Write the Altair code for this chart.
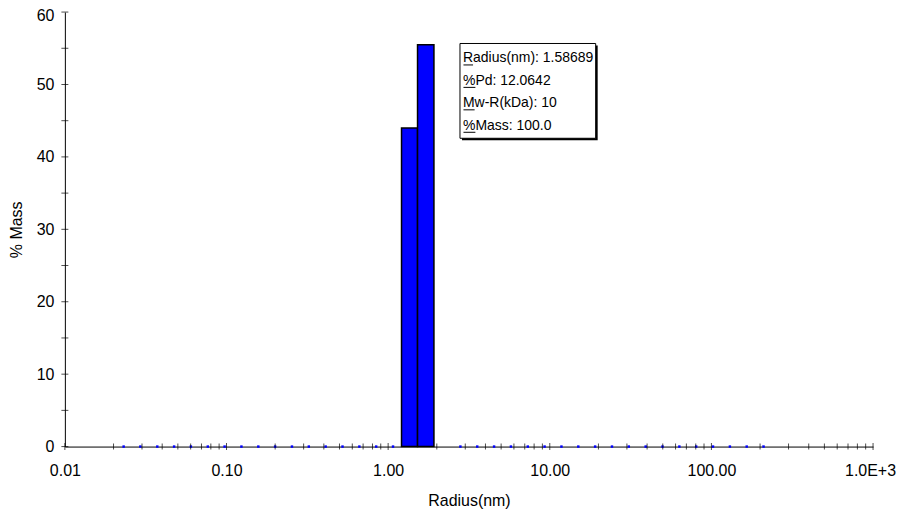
import altair as alt
import pandas as pd

# ---- data ----
# radius bins (nm) that carry mass
bar_lo = [1.21, 1.52]
bar_hi = [1.52, 1.92]
bar_mass = [44.0, 55.5]

# radius positions of the zero-mass points (blue markers on the axis)
zero_radius = [0.0231, 0.0293, 0.0373, 0.0474, 0.0602, 0.0766, 0.0973, 0.1237,
               0.1573, 0.1999, 0.2541, 0.3230, 0.4106, 0.5220, 0.6635, 0.8433,
               1.072, 2.799, 3.558, 4.523, 5.749, 7.308, 9.290, 11.81, 15.01,
               19.08, 24.26, 30.83, 39.19, 49.82, 63.33, 80.50, 102.3, 130.1,
               165.3, 210.2]
zero_mass = [0.0] * len(zero_radius)

x_tick_values = [0.01, 0.1, 1, 10, 100, 1000]
x_tick_labels = ["0.01", "0.10", "1.00", "10.00", "100.00", "1.0E+3"]
x_minor = [m * v for v in [0.01, 0.1, 1, 10, 100] for m in range(2, 10)]
y_major = [0, 10, 20, 30, 40, 50, 60]
y_minor = [5, 15, 25, 35, 45, 55]

legend_lines = ["Radius(nm): 1.58689", "%Pd: 12.0642",
                "Mw-R(kDa): 10", "%Mass: 100.0"]

FONT = "Liberation Sans"
W, H = 810, 435.5
LEG_FS, LEG_LH, LEG_X, LEG_Y = 14, 22.5, 399, 39.5
# approximate advance widths (em) of the underlined first letters
first_w = {"R": 0.722, "%": 0.889, "M": 0.833}

xs = alt.Scale(type="log", domain=[0.01, 1000], nice=False)
ys = alt.Scale(domain=[0, 60], nice=False, zero=False)

label_expr = " : ".join(
    f"datum.value < {v*3.16:.4g} ? '{l}'" for v, l in zip(x_tick_values[:-1], x_tick_labels[:-1])
) + f" : '{x_tick_labels[-1]}'"

x_axis = alt.Axis(values=x_tick_values, labelExpr=label_expr, ticks=False,
                  grid=False, labelPadding=16, titlePadding=14,
                  labelFontSize=16, titleFontSize=16, labelFont=FONT,
                  titleFont=FONT, titleFontWeight="normal",
                  domainColor="black", labelColor="black", titleColor="black",
                  labelFlush=False,
                  labelOffset={"condition": {"test": "datum.value >= 999", "value": -3},
                               "value": 0})
y_axis = alt.Axis(values=y_major, ticks=False, grid=False, labelPadding=11,
                  titlePadding=12, labelFontSize=16, titleFontSize=16,
                  labelFont=FONT, titleFont=FONT, titleFontWeight="normal",
                  domainColor="black", labelColor="black", titleColor="black",
                  labelFlush=False,
                  labelOffset={"condition": {"test": "datum.value >= 59", "value": 3},
                               "value": 0})
XT, YT = "Radius(nm)", "% Mass"


def X(f):
    return alt.X(f, scale=xs, title=XT, axis=x_axis)


def Y(f):
    return alt.Y(f, scale=ys, title=YT, axis=y_axis)


bars_df = pd.DataFrame({"lo": bar_lo, "hi": bar_hi, "mass": bar_mass,
                        "base": [0.0] * len(bar_lo)})
bars = alt.Chart(bars_df).mark_rect(fill="#0000FF", stroke="black", strokeWidth=1.5).encode(
    x=X("lo:Q"), x2="hi:Q", y=Y("mass:Q"), y2="base:Q",
)

dots_df = pd.DataFrame({"lo": zero_radius, "mass": zero_mass})
dots = alt.Chart(dots_df).mark_square(size=6, color="#0000FF", opacity=1).encode(
    x=X("lo:Q"), y=Y("mass:Q"),
)

xmaj = alt.Chart(pd.DataFrame({"lo": x_tick_values, "mass": [0.0] * len(x_tick_values)})).mark_tick(
    orient="vertical", size=7, thickness=1, color="black").encode(
    x=X("lo:Q"), y=Y("mass:Q"))
xmin = alt.Chart(pd.DataFrame({"lo": x_minor, "mass": [0.0] * len(x_minor)})).mark_tick(
    orient="vertical", size=6, thickness=1, color="black").encode(
    x=X("lo:Q"), y=Y("mass:Q"))
yt = alt.Chart(pd.DataFrame({"mass": y_major + y_minor, "lo": [0.01] * 13})).mark_tick(
    orient="horizontal", size=7, thickness=1, color="black").encode(
    y=Y("mass:Q"), x=X("lo:Q"))

box_shadow = alt.Chart(pd.DataFrame({"a": [1]})).mark_rect(fill="black").encode(
    x=alt.value(398), x2=alt.value(534), y=alt.value(33.5), y2=alt.value(128.5))
box = alt.Chart(pd.DataFrame({"a": [1]})).mark_rect(fill="white", stroke="black", strokeWidth=1).encode(
    x=alt.value(396), x2=alt.value(532), y=alt.value(31.5), y2=alt.value(126.5))
legend = alt.Chart(pd.DataFrame({"t": ["\n".join(legend_lines)]})).mark_text(
    align="left", baseline="top", font=FONT, fontSize=LEG_FS, lineBreak="\n",
    lineHeight=LEG_LH, color="black").encode(
    x=alt.value(LEG_X), y=alt.value(LEG_Y), text="t:N")

# underline of the first letter of each legend line (text decoration)
ul_df = pd.DataFrame({
    "ux": [LEG_X + 0.5] * len(legend_lines),
    "ux2": [LEG_X + first_w[s[0]] * LEG_FS for s in legend_lines],
    "uy": [LEG_Y + i * LEG_LH + 13.5 for i in range(len(legend_lines))],
})
underline = alt.Chart(ul_df).mark_rule(color="black", strokeWidth=1).encode(
    x=alt.X("ux:Q", scale=None), x2="ux2:Q", y=alt.Y("uy:Q", scale=None))

chart = alt.layer(bars, dots, xmin, xmaj, yt, box_shadow, box, legend, underline).properties(
    width=W, height=H,
    autosize=alt.AutoSizeParams(type="none"),
    padding={"left": 57, "top": 3.5, "right": 23, "bottom": 64},
).configure_view(stroke=None).configure_axis(domainWidth=1)

chart.save("out.html", embed_options={"renderer": "svg", "actions": False})
